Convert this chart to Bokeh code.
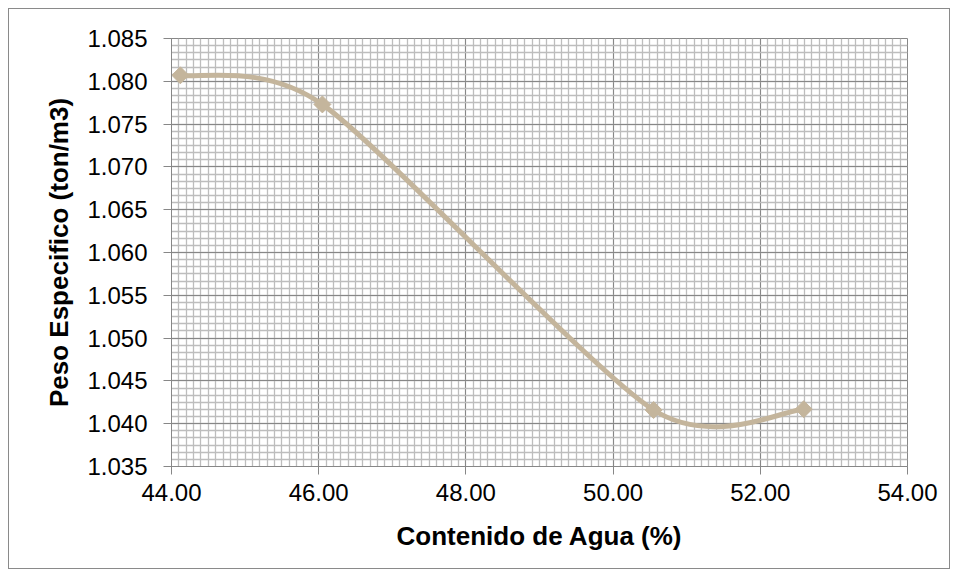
from bokeh.plotting import figure
from bokeh.models import SingleIntervalTicker, NumeralTickFormatter, Range1d, InlineStyleSheet
from bokeh.embed import file_html
from bokeh.resources import INLINE
import math

# Measured samples: water content (%) vs. specific weight (ton/m3)
contenido_agua = [44.12, 46.05, 50.55, 52.59]
peso_especifico = [1.0807, 1.0773, 1.0416, 1.0417]

x_ticks_interval = 2.0
y_ticks_interval = 0.005

LINE_COLOR = "#C4B59C"
FONT = "Liberation Sans"
SMOOTHING = 1 / 8  # control-point tension for the smoothed line

p = figure(width=958, height=576, output_backend="svg", toolbar_location=None,
           frame_width=736, frame_height=428,
           x_range=Range1d(44, 54), y_range=Range1d(1.035, 1.085))
p.min_border_left = 171
p.min_border_right = 51
p.min_border_top = 38
p.min_border_bottom = 110
p.background_fill_color = "white"
p.border_fill_color = "white"
p.outline_line_color = "#878787"
p.outline_line_width = 1

# thin grey frame around the whole chart area, drawn above the canvas layers
p.stylesheets = [InlineStyleSheet(css="""
:host { position: relative; }
:host::after {
  content: "";
  position: absolute;
  left: 8px; top: 8px; right: 8px; bottom: 7px;
  border: 1.5px solid #8a8a8a;
  pointer-events: none;
  z-index: 100;
}
""")]

# Axes
p.xaxis.ticker = SingleIntervalTicker(interval=x_ticks_interval, num_minor_ticks=20)
p.yaxis.ticker = SingleIntervalTicker(interval=y_ticks_interval, num_minor_ticks=6)
p.xaxis.formatter = NumeralTickFormatter(format="0.00")
p.yaxis.formatter = NumeralTickFormatter(format="0.000")
p.xaxis.axis_label = "Contenido de Agua (%)"
p.yaxis.axis_label = "Peso Especifico (ton/m3)"
for ax in (p.xaxis, p.yaxis):
    ax.axis_line_color = "#878787"
    ax.major_tick_line_color = "#878787"
    ax.minor_tick_line_color = None
    ax.major_tick_in = 0
    ax.major_tick_out = 8
    ax.major_label_text_font = FONT
    ax.major_label_text_font_size = "24px"
    ax.major_label_text_color = "black"
    ax.axis_label_text_font = FONT
    ax.axis_label_text_font_size = "26px"
    ax.axis_label_text_font_style = "bold"
    ax.axis_label_text_color = "black"
p.yaxis.major_label_standoff = 16
p.yaxis.axis_label_standoff = 10
p.xaxis.major_label_standoff = 9
p.xaxis.axis_label_standoff = 17

# Grid
for g in (p.xgrid, p.ygrid):
    g.grid_line_color = "#878787"
    g.grid_line_width = 1
    g.minor_grid_line_color = "#BDBDBD"
    g.minor_grid_line_width = 1.3

# Smoothed curve through the samples (cubic Bezier segments)
n = len(contenido_agua)
pts = list(zip(contenido_agua, peso_especifico))
x0, y0, x1, y1, cx0, cy0, cx1, cy1 = ([] for _ in range(8))
for i in range(n - 1):
    pa = pts[i - 1] if i > 0 else pts[i]
    pb = pts[i]
    pc = pts[i + 1]
    pd = pts[i + 2] if i + 2 < n else pts[i + 1]
    x0.append(pb[0]); y0.append(pb[1])
    x1.append(pc[0]); y1.append(pc[1])
    cx0.append(pb[0] + (pc[0] - pa[0]) * SMOOTHING)
    cy0.append(pb[1] + (pc[1] - pa[1]) * SMOOTHING)
    cx1.append(pc[0] - (pd[0] - pb[0]) * SMOOTHING)
    cy1.append(pc[1] - (pd[1] - pb[1]) * SMOOTHING)
p.bezier(x0=x0, y0=y0, x1=x1, y1=y1, cx0=cx0, cy0=cy0, cx1=cx1, cy1=cy1,
         line_color=LINE_COLOR, line_width=5)

p.scatter(contenido_agua, peso_especifico, marker="square", angle=math.pi / 4,
          size=12, fill_color=LINE_COLOR, line_color=LINE_COLOR)

open("out.html", "w").write(file_html(p, INLINE))
